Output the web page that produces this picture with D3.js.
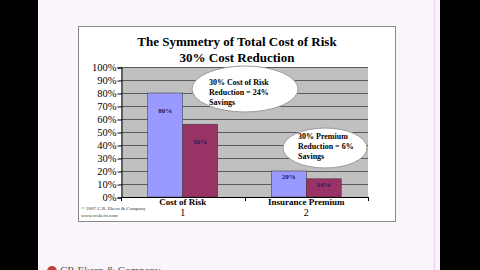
<!DOCTYPE html>
<html>
<head>
<meta charset="utf-8">
<script src="https://cdn.jsdelivr.net/npm/d3@7"></script>
<style>
body { margin: 0; background: #000; }
svg { display: block; }
text { font-family: "Liberation Serif", "DejaVu Serif", serif; }
</style>
</head>
<body>
<svg id="chart" width="480" height="270"></svg>
<script>
// data
var categories = ["Cost of Risk", "Insurance Premium"];
var catNumbers = ["1", "2"];
var series = ["before", "after"];
var before = [80, 20];
var after = [56, 14];
var valueLabels = [["80%", "56%"], ["20%", "14%"]];
var yTicks = [0, 10, 20, 30, 40, 50, 60, 70, 80, 90, 100];
var titleLines = ["The Symmetry of Total Cost of Risk", "30% Cost Reduction"];
var note1 = ["30% Cost of Risk", "Reduction = 24%", "Savings"];
var note2 = ["30% Premium", "Reduction = 6%", "Savings"];
var credit = ["\u00a9 2007 C.R. Ekern & Company", "www.crekern.com"];

var colors = {before: "#9999ff", after: "#993366"};

var svg = d3.select("#chart");

// slide background
svg.append("rect").attr("x", 38).attr("y", 0).attr("width", 402).attr("height", 270)
	.attr("fill", "#faf5fa");
svg.append("line").attr("x1", 434.5).attr("x2", 434.5).attr("y1", 0).attr("y2", 270)
	.style("stroke", "#f3dcf3").style("stroke-width", 2);

// chart frame
svg.append("rect").attr("x", 78.5).attr("y", 26.5).attr("width", 317).attr("height", 195)
	.attr("fill", "#ffffff").style("stroke", "#8a8a8a").style("stroke-width", 1);

svg.selectAll("text.title").data(titleLines).enter().append("text")
	.attr("class", "title")
	.attr("x", 237).attr("y", function(d, i) { return 46 + i * 16; })
	.attr("text-anchor", "middle")
	.style("font-size", "13px").style("font-weight", "bold")
	.text(function(d) { return d; });

var pL = 121, pR = 368, pT = 67, pB = 197;

var y = d3.scaleLinear().domain([0, 100]).range([pB, pT]);
var x0 = d3.scaleBand().domain(categories).range([pL, pR]).padding(0);
var step = x0.bandwidth();
var x1 = d3.scaleBand().domain(series).range([(step - 70) / 2, (step + 70) / 2]).padding(0);

svg.append("rect").attr("x", pL).attr("y", pT).attr("width", pR - pL)
	.attr("height", pB - pT).attr("fill", "#c0c0c0");

// gridlines
svg.append("g").selectAll("line").data(yTicks.slice(1)).enter().append("line")
	.attr("x1", pL).attr("x2", pR)
	.attr("y1", function(d) { return Math.round(y(d)) + 0.5; })
	.attr("y2", function(d) { return Math.round(y(d)) + 0.5; })
	.style("stroke", "#5a5a5a").style("stroke-width", 1);

// y axis
var yAxis = svg.append("g").attr("transform", "translate(" + (pL + 0.5) + ",0.5)")
	.call(d3.axisLeft(y).tickValues(yTicks).tickSize(4).tickFormat(function(d) { return d + "%"; }));
yAxis.select(".domain").style("stroke", "#000");
yAxis.selectAll("text").style("font-family", "Liberation Serif, serif")
	.style("font-size", "10.5px").attr("fill", "#000").attr("x", -5);

// bars
var rows = categories.map(function(c, i) {
	return {cat: c, vals: [{s: "before", v: before[i], lab: valueLabels[i][0]},
	                       {s: "after", v: after[i], lab: valueLabels[i][1]}]};
});
var groups = svg.append("g").selectAll("g").data(rows).enter().append("g")
	.attr("transform", function(d) { return "translate(" + x0(d.cat) + ",0)"; });
groups.selectAll("rect").data(function(d) { return d.vals; }).enter().append("rect")
	.attr("x", function(d) { return x1(d.s); })
	.attr("y", function(d) { return y(d.v); })
	.attr("width", x1.bandwidth())
	.attr("height", function(d) { return pB - y(d.v); })
	.attr("fill", function(d) { return colors[d.s]; })
	.style("stroke", "#333").style("stroke-width", 0.5);
groups.selectAll("text").data(function(d) { return d.vals; }).enter().append("text")
	.attr("x", function(d) { return x1(d.s) + x1.bandwidth() / 2; })
	.attr("y", function(d) { return d.v > 50 ? y(d.v) + 20 : y(d.v) + 8; })
	.attr("text-anchor", "middle")
	.style("font-size", "7px").style("font-weight", "bold")
	.attr("fill", "#1a1a5e")
	.text(function(d) { return d.lab; });

// x axis
svg.append("line").attr("x1", pL).attr("x2", pR).attr("y1", pB + 0.5).attr("y2", pB + 0.5)
	.style("stroke", "#000");
svg.append("g").selectAll("line").data([pL, (pL + pR) / 2, pR]).enter().append("line")
	.attr("x1", function(d) { return Math.round(d) + 0.5; }).attr("x2", function(d) { return Math.round(d) + 0.5; })
	.attr("y1", pB).attr("y2", pB + 4).style("stroke", "#000");
svg.append("g").selectAll("text").data(categories).enter().append("text")
	.attr("x", function(d) { return x0(d) + step / 2; }).attr("y", 205)
	.attr("text-anchor", "middle")
	.style("font-size", "9px").style("font-weight", "bold")
	.text(function(d) { return d; });
svg.append("g").selectAll("text").data(catNumbers).enter().append("text")
	.attr("x", function(d, i) { return x0(categories[i]) + step / 2; }).attr("y", 216)
	.attr("text-anchor", "middle")
	.style("font-size", "10px")
	.text(function(d) { return d; });

// callouts
function callout(cx, cy, rx, ry, tx, ty, lines) {
	svg.append("ellipse").attr("cx", cx).attr("cy", cy).attr("rx", rx).attr("ry", ry)
		.attr("fill", "#ffffff").style("stroke", "#9a9a9a").style("stroke-width", 1);
	svg.append("g").selectAll("text").data(lines).enter().append("text")
		.attr("x", tx).attr("y", function(d, i) { return ty + i * 10; })
		.style("font-size", "8px").style("font-weight", "bold")
		.text(function(d) { return d; });
}
callout(245, 89, 53, 23, 209, 85, note1);
callout(325, 148, 42, 20, 298, 139, note2);

// credit
svg.append("g").selectAll("text").data(credit).enter().append("text")
	.attr("x", 81).attr("y", function(d, i) { return 210 + i * 7; })
	.style("font-size", "5px").attr("fill", "#333")
	.text(function(d) { return d; });

// footer logo, cut by the frame edge as in the slide
svg.append("circle").attr("cx", 52).attr("cy", 271).attr("r", 5).attr("fill", "#c04040");
svg.append("text").attr("x", 60).attr("y", 274).style("font-size", "11px").attr("fill", "#555")
	.text("CR Ekern & Company");
</script>
</body>
</html>
